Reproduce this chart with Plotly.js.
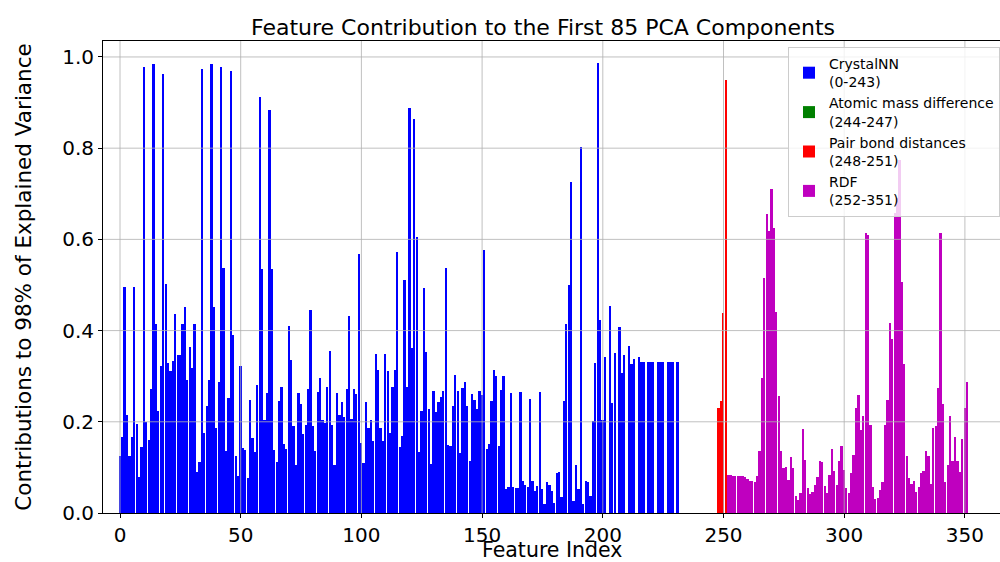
<!DOCTYPE html>
<html>
<head>
<meta charset="utf-8">
<script src="https://cdn.plot.ly/plotly-3.0.1.min.js"></script>
<style>
html, body { margin:0; padding:0; overflow:hidden; width:1000px; height:562px; background:#fff; }
#chart { width:1000px; height:562px; }
</style>
</head>
<body>
<div id="chart"></div>
<script>
// ---- data ----
const groupNames = ["CrystalNN<br>(0-243)", "Atomic mass difference<br>(244-247)", "Pair bond distances<br>(248-251)", "RDF<br>(252-351)"];
const groupStarts = [0, 244, 248, 252];
const groupColors = ["#0000ff", "#008000", "#ff0000", "#bf00bf"];

const crystalNN = [
0.126,0.167,0.495,0.216,0.126,0.167,0.495,0.195,0.080,0.145,
0.977,0.199,0.160,0.272,0.985,0.414,0.224,0.322,0.962,0.502,
0.330,0.312,0.334,0.436,0.346,0.346,0.414,0.451,0.292,0.363,
0.317,0.414,0.091,0.111,0.973,0.175,0.235,0.292,0.985,0.452,
0.186,0.288,0.979,0.537,0.136,0.253,0.969,0.391,0.126,0.082,
0.322,0.142,0.139,0.077,0.248,0.164,0.134,0.281,0.913,0.534,
0.204,0.264,0.883,0.536,0.138,0.111,0.245,0.277,0.151,0.140,
0.410,0.336,0.191,0.105,0.264,0.238,0.173,0.194,0.271,0.445,
0.191,0.135,0.266,0.295,0.205,0.197,0.277,0.355,0.193,0.105,
0.264,0.214,0.243,0.211,0.273,0.431,0.206,0.273,0.262,0.567,
0.154,0.110,0.244,0.187,0.205,0.158,0.349,0.314,0.187,0.158,
0.349,0.312,0.176,0.276,0.314,0.572,0.145,0.169,0.510,0.277,
0.887,0.362,0.865,0.606,0.133,0.224,0.494,0.352,0.229,0.107,
0.268,0.222,0.244,0.254,0.268,0.537,0.149,0.148,0.234,0.303,
0.268,0.131,0.275,0.288,0.235,0.115,0.262,0.248,0.228,0.268,
0.258,0.577,0.140,0.151,0.246,0.314,0.301,0.147,0.270,0.301,
0.052,0.058,0.264,0.056,0.054,0.054,0.265,0.070,0.061,0.058,
0.250,0.070,0.049,0.059,0.265,0.053,0.020,0.067,0.061,0.049,
0.023,0.087,0.091,0.034,0.246,0.415,0.501,0.725,0.026,0.105,
0.052,0.803,0.020,0.070,0.067,0.037,0.202,0.330,0.986,0.423,
0.204,0.341,0,0.454,0.242,0.350,0,0.408,0.306,0.346,
0,0.366,0.327,0.337,0,0.341,0.332,0.332,0,0.332,
0.332,0.332,0,0.332,0.332,0.332,0,0.332,0.332,0.332,
0,0.332,0,0,0,0,0,0,0,0,
0,0,0,0
];
const atomicMass = [0, 0, 0, 0];
const pairBond = [0.230, 0.246, 0.438, 0.950];
const rdf = [
0.083,0.083,0.082,0.082,0.082,0.082,0.081,0.078,0.074,0.071,
0.070,0.069,0.081,0.135,0.297,0.515,0.656,0.619,0.711,0.624,
0.440,0.257,0.135,0.099,0.100,0.072,0.122,0.099,0.037,0.029,
0.043,0.185,0.116,0.054,0.042,0.047,0.061,0.080,0.113,0.111,
0.059,0.043,0.083,0.141,0.092,0.061,0.115,0.148,0.094,0.054,
0.043,0.087,0.127,0.230,0.258,0.182,0.213,0.613,0.610,0.194,
0.058,0.030,0.032,0.050,0.069,0.193,0.248,0.417,0.382,0.657,
0.690,0.775,0.506,0.327,0.124,0.077,0.063,0.071,0.047,0.058,
0.087,0.092,0.135,0.125,0.064,0.186,0.191,0.275,0.615,0.238,
0.067,0.105,0.213,0.115,0.166,0.115,0.089,0.162,0.231,0.287
];
const xTicks = [0, 50, 100, 150, 200, 250, 300, 350];
const yTicks = [0, 0.2, 0.4, 0.6, 0.8, 1.0];
const chartTitle = "Feature Contribution to the First 85 PCA Components";
const xTitle = "Feature Index";
const yTitle = "Contributions to 98% of Explained Variance";

// ---- build ----
const series = [crystalNN, atomicMass, pairBond, rdf];
const font = "DejaVu Sans, Arial, sans-serif";
const traces = series.map((vals, k) => ({
  type: "bar",
  name: groupNames[k],
  x: vals.map((v, i) => groupStarts[k] + i),
  y: vals,
  width: 0.72,
  marker: { color: groupColors[k], line: { width: 0 } },
  hoverinfo: "x+y"
}));

const gridColor = "#b0b0b0";
const shapes = [];
xTicks.forEach(t => shapes.push({type:"line", layer:"above", xref:"x", yref:"paper", x0:t, x1:t, y0:0, y1:1, line:{color:gridColor, width:0.8}}));
yTicks.slice(1).forEach(t => shapes.push({type:"line", layer:"above", xref:"paper", yref:"y", x0:0, x1:1, y0:t, y1:t, line:{color:gridColor, width:0.8}}));

const W = 1000, H = 562, L = 103, T = 41, B = 49;
const plotW = W - L, plotH = H - T - B;
const pxPerUnit = 2.414;
const x0 = -17 / pxPerUnit;

const layout = {
  width: W, height: H,
  margin: { l: L, r: 0, t: T, b: B },
  paper_bgcolor: "#ffffff", plot_bgcolor: "#ffffff",
  font: { family: font, color: "#000000" },
  barmode: "overlay",
  bargap: 0,
  title: { text: chartTitle, font: { size: 22, family: font, color: "#000" }, x: 543 / W, xref: "container", xanchor: "center", y: 1 - 27 / H, yref: "container", yanchor: "middle" },
  xaxis: {
    range: [x0, x0 + plotW / pxPerUnit],
    tickvals: xTicks, ticktext: xTicks.map(String),
    ticks: "outside", ticklen: 4, tickwidth: 1, tickcolor: "#000",
    showgrid: false, zeroline: false,
    showline: true, linecolor: "#000", linewidth: 1, mirror: true,
    tickfont: { size: 20, family: font, color: "#000" }
  },
  yaxis: {
    range: [0, 1.035],
    tickvals: yTicks, ticktext: yTicks.map(v => v.toFixed(1)),
    ticks: "outside", ticklen: 4, tickwidth: 1, tickcolor: "#000",
    showgrid: false, zeroline: false,
    showline: true, linecolor: "#000", linewidth: 1, mirror: false,
    tickfont: { size: 20, family: font, color: "#000" },
    title: { text: yTitle, font: { size: 21.5, family: font, color: "#000" }, standoff: 24 }
  },
  annotations: [{
    text: xTitle, showarrow: false,
    xref: "paper", x: 0.5, xanchor: "center",
    yref: "paper", y: (T + plotH - 550) / plotH, yanchor: "middle",
    font: { size: 20.5, family: font, color: "#000" }
  }],
  shapes: shapes,
  showlegend: true,
  legend: {
    x: (788 - L) / plotW, y: (513 - 47) / plotH, xanchor: "left", yanchor: "top",
    bgcolor: "rgba(255,255,255,0.8)", bordercolor: "#cccccc", borderwidth: 1,
    font: { size: 14, family: font, color: "#000" },
    traceorder: "normal", itemwidth: 30
  }
};

Plotly.newPlot("chart", traces, layout, { displayModeBar: false, responsive: false });
</script>
</body>
</html>
